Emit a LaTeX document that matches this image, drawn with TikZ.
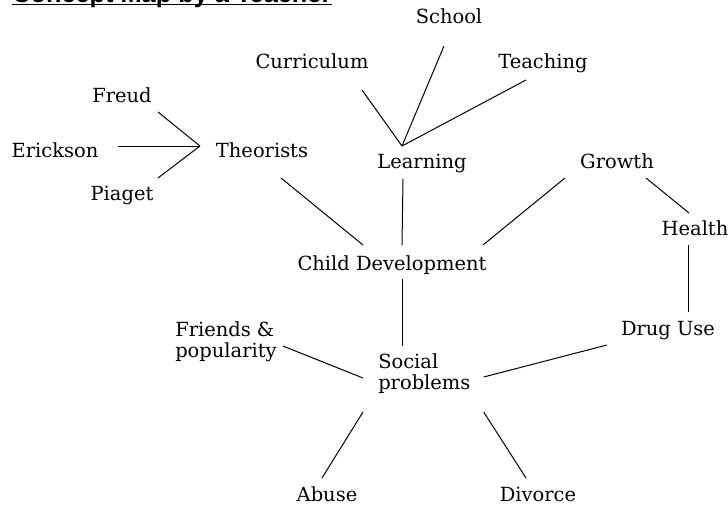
\documentclass[tikz,border=0pt]{standalone}
\usepackage{fontspec}
\setmainfont{DejaVu Serif}
\newfontfamily\titlefont{Liberation Sans}
\begin{document}
\begin{tikzpicture}[x=0.75pt,y=-0.75pt,
		concept/.style={inner sep=0pt, anchor=base, text=black, font=\fontsize{14.6}{15.75}\selectfont},
		link/.style={line width=0.75pt, draw=black}]
		\useasboundingbox (0,0) rectangle (728,504);
		\clip (0,0) rectangle (728,504);
		% title, cut off at the top
		\node[inner sep=0pt, anchor=base west, font=\titlefont\bfseries\fontsize{19}{20}\selectfont] (title) at (12,2.5) {Concept Map by a Teacher};
		\draw[line width=1.1pt] ([yshift=-1.5pt]title.base west) -- ([yshift=-1.5pt]title.base east);
		% concepts
		\node[concept] (school) at (449,23) {School};
		\node[concept] (curriculum) at (312,68) {Curriculum};
		\node[concept] (teaching) at (543,68) {Teaching};
		\node[concept] (freud) at (122,102) {Freud};
		\node[concept] (erickson) at (55,157) {Erickson};
		\node[concept] (theorists) at (262,157) {Theorists};
		\node[concept] (piaget) at (122,200) {Piaget};
		\node[concept] (learning) at (422,168) {Learning};
		\node[concept] (growth) at (617,168) {Growth};
		\node[concept] (health) at (695,235) {Health};
		\node[concept] (childdev) at (392,270) {Child Development};
		\node[concept] (druguse) at (668,335) {Drug Use};
		\node[concept, anchor=west, align=left] (friends) at (175,341.5) {Friends \&\\popularity};
		\node[concept, anchor=west, align=left] (social) at (378,373.5) {Social\\problems};
		\node[concept] (abuse) at (327,501) {Abuse};
		\node[concept] (divorce) at (538,501) {Divorce};
		\coordinate (tjoin) at (200,146);
		\coordinate (ljoin) at (402,146);
		% links
		\draw[link] ([shift={(36,10)}]freud.base) -- (tjoin);
		\draw[link] ([shift={(63,-11)}]erickson.base) -- (tjoin);
		\draw[link] ([shift={(36,-22)}]piaget.base) -- (tjoin);
		\draw[link] ([shift={(19,21)}]theorists.base) -- ([shift={(-29,-25)}]childdev.base);
		\draw[link] ([shift={(50,22)}]curriculum.base) -- (ljoin);
		\draw[link] ([shift={(-5,23)}]school.base) -- (ljoin);
		\draw[link] ([shift={(-17,12)}]teaching.base) -- (ljoin);
		\draw[link] ([shift={(-19,11)}]learning.base) -- ([shift={(10,-25)}]childdev.base);
		\draw[link] ([shift={(-52,10)}]growth.base) -- ([shift={(91,-25)}]childdev.base);
		\draw[link] ([shift={(29,10)}]growth.base) -- ([shift={(-6,-22)}]health.base);
		\draw[link] ([shift={(-7,10)}]health.base) -- ([shift={(20,-23)}]druguse.base);
		\draw[link] ([shift={(10,9)}]childdev.base) -- ([shift={(24,-27.5)}]social.west);
		\draw[link] ([shift={(6,4.5)}]friends.east) -- ([shift={(-15,4.5)}]social.west);
		\draw[link] ([shift={(-61,10)}]druguse.base) -- ([shift={(13,3.5)}]social.east);
		\draw[link] ([shift={(-15,38.5)}]social.west) -- ([shift={(-5,-23)}]abuse.base);
		\draw[link] ([shift={(13,38.5)}]social.east) -- ([shift={(-12,-23)}]divorce.base);
	\end{tikzpicture}
\end{document}
